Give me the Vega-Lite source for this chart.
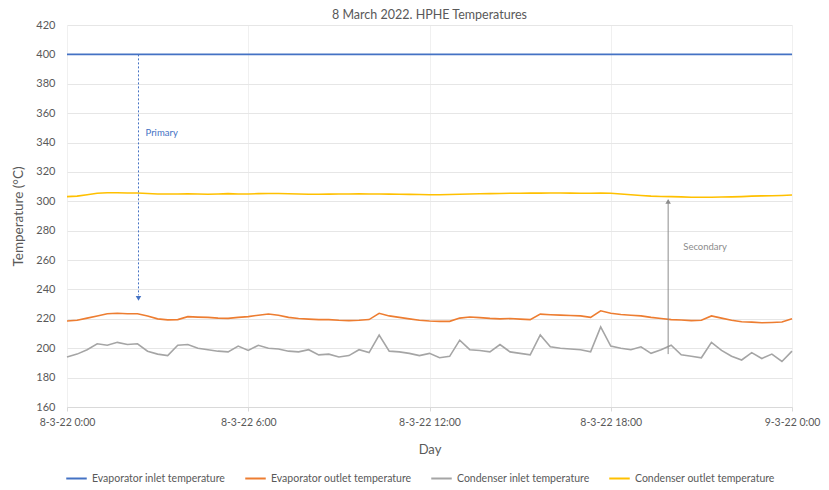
{
  "$schema": "https://vega.github.io/schema/vega-lite/v6.json",
  "width": 725,
  "height": 382,
  "autosize": {"type": "none"},
  "padding": {"left": 67, "top": 25, "right": 37, "bottom": 83},
  "background": "white",
  "config": {
    "font": "Lato",
    "view": {"stroke": null},
    "axis": {"labelColor": "#595959", "titleColor": "#595959", "titleFontWeight": "normal"}
  },
  "title": {"text": "8 March 2022. HPHE Temperatures", "fontSize": 12.5, "fontWeight": "normal", "color": "#595959", "offset": -2, "anchor": "middle"},
  "datasets": {
    "temps": [
      {"t":"2022-03-08T00:00","ei":400,"eo":218.5,"ci":194,"co":303.2},
      {"t":"2022-03-08T00:20","ei":400,"eo":219,"ci":196,"co":303.5},
      {"t":"2022-03-08T00:40","ei":400,"eo":220.5,"ci":199,"co":304.5},
      {"t":"2022-03-08T01:00","ei":400,"eo":222,"ci":203,"co":305.5},
      {"t":"2022-03-08T01:20","ei":400,"eo":223.5,"ci":202,"co":305.8},
      {"t":"2022-03-08T01:40","ei":400,"eo":223.8,"ci":204,"co":305.8},
      {"t":"2022-03-08T02:00","ei":400,"eo":223.5,"ci":202.5,"co":305.7},
      {"t":"2022-03-08T02:20","ei":400,"eo":223.5,"ci":203,"co":305.7},
      {"t":"2022-03-08T02:40","ei":400,"eo":222,"ci":198,"co":305.3},
      {"t":"2022-03-08T03:00","ei":400,"eo":220,"ci":196,"co":305},
      {"t":"2022-03-08T03:20","ei":400,"eo":219.3,"ci":195,"co":305},
      {"t":"2022-03-08T03:40","ei":400,"eo":219.5,"ci":202,"co":305},
      {"t":"2022-03-08T04:00","ei":400,"eo":221.5,"ci":202.5,"co":305.1},
      {"t":"2022-03-08T04:20","ei":400,"eo":221.2,"ci":200,"co":305},
      {"t":"2022-03-08T04:40","ei":400,"eo":221,"ci":199,"co":304.8},
      {"t":"2022-03-08T05:00","ei":400,"eo":220.5,"ci":198,"co":305},
      {"t":"2022-03-08T05:20","ei":400,"eo":220.3,"ci":197.5,"co":305.2},
      {"t":"2022-03-08T05:40","ei":400,"eo":221,"ci":201.5,"co":305},
      {"t":"2022-03-08T06:00","ei":400,"eo":221.5,"ci":198.5,"co":305},
      {"t":"2022-03-08T06:20","ei":400,"eo":222.5,"ci":202,"co":305.2},
      {"t":"2022-03-08T06:40","ei":400,"eo":223.3,"ci":200,"co":305.3},
      {"t":"2022-03-08T07:00","ei":400,"eo":222.5,"ci":199.5,"co":305.3},
      {"t":"2022-03-08T07:20","ei":400,"eo":221,"ci":198,"co":305.1},
      {"t":"2022-03-08T07:40","ei":400,"eo":220.2,"ci":197.5,"co":305},
      {"t":"2022-03-08T08:00","ei":400,"eo":219.8,"ci":199,"co":304.8},
      {"t":"2022-03-08T08:20","ei":400,"eo":219.5,"ci":195.5,"co":304.8},
      {"t":"2022-03-08T08:40","ei":400,"eo":219.5,"ci":196,"co":304.9},
      {"t":"2022-03-08T09:00","ei":400,"eo":219,"ci":194,"co":305},
      {"t":"2022-03-08T09:20","ei":400,"eo":218.8,"ci":195,"co":305},
      {"t":"2022-03-08T09:40","ei":400,"eo":219,"ci":199,"co":305.1},
      {"t":"2022-03-08T10:00","ei":400,"eo":219.5,"ci":197,"co":305},
      {"t":"2022-03-08T10:20","ei":400,"eo":223.8,"ci":209,"co":305},
      {"t":"2022-03-08T10:40","ei":400,"eo":222,"ci":198,"co":304.9},
      {"t":"2022-03-08T11:00","ei":400,"eo":221,"ci":197.5,"co":304.8},
      {"t":"2022-03-08T11:20","ei":400,"eo":220,"ci":196.5,"co":304.7},
      {"t":"2022-03-08T11:40","ei":400,"eo":219,"ci":195,"co":304.6},
      {"t":"2022-03-08T12:00","ei":400,"eo":218.5,"ci":196.5,"co":304.5},
      {"t":"2022-03-08T12:20","ei":400,"eo":218.3,"ci":193.5,"co":304.5},
      {"t":"2022-03-08T12:40","ei":400,"eo":218.3,"ci":194.5,"co":304.6},
      {"t":"2022-03-08T13:00","ei":400,"eo":220.5,"ci":205.5,"co":304.8},
      {"t":"2022-03-08T13:20","ei":400,"eo":221.3,"ci":199,"co":305},
      {"t":"2022-03-08T13:40","ei":400,"eo":220.8,"ci":198.5,"co":305.1},
      {"t":"2022-03-08T14:00","ei":400,"eo":220.3,"ci":197.5,"co":305.2},
      {"t":"2022-03-08T14:20","ei":400,"eo":220,"ci":202.5,"co":305.3},
      {"t":"2022-03-08T14:40","ei":400,"eo":220.2,"ci":197.5,"co":305.5},
      {"t":"2022-03-08T15:00","ei":400,"eo":219.8,"ci":196.5,"co":305.5},
      {"t":"2022-03-08T15:20","ei":400,"eo":219.5,"ci":195.5,"co":305.6},
      {"t":"2022-03-08T15:40","ei":400,"eo":223.2,"ci":209,"co":305.6},
      {"t":"2022-03-08T16:00","ei":400,"eo":222.8,"ci":201,"co":305.7},
      {"t":"2022-03-08T16:20","ei":400,"eo":222.5,"ci":200,"co":305.7},
      {"t":"2022-03-08T16:40","ei":400,"eo":222.3,"ci":199.5,"co":305.6},
      {"t":"2022-03-08T17:00","ei":400,"eo":222,"ci":199,"co":305.5},
      {"t":"2022-03-08T17:20","ei":400,"eo":221,"ci":197.5,"co":305.5},
      {"t":"2022-03-08T17:40","ei":400,"eo":225.5,"ci":214.5,"co":305.7},
      {"t":"2022-03-08T18:00","ei":400,"eo":223.8,"ci":201.5,"co":305.5},
      {"t":"2022-03-08T18:20","ei":400,"eo":223,"ci":200,"co":305},
      {"t":"2022-03-08T18:40","ei":400,"eo":222.5,"ci":199,"co":304.5},
      {"t":"2022-03-08T19:00","ei":400,"eo":222,"ci":201,"co":304},
      {"t":"2022-03-08T19:20","ei":400,"eo":221,"ci":196.5,"co":303.5},
      {"t":"2022-03-08T19:40","ei":400,"eo":220.2,"ci":199,"co":303.3},
      {"t":"2022-03-08T20:00","ei":400,"eo":219.5,"ci":202,"co":303.2},
      {"t":"2022-03-08T20:20","ei":400,"eo":219.2,"ci":195.5,"co":303},
      {"t":"2022-03-08T20:40","ei":400,"eo":218.8,"ci":194.5,"co":302.8},
      {"t":"2022-03-08T21:00","ei":400,"eo":219,"ci":193.5,"co":302.8},
      {"t":"2022-03-08T21:20","ei":400,"eo":222,"ci":204,"co":302.8},
      {"t":"2022-03-08T21:40","ei":400,"eo":220.5,"ci":198.5,"co":302.9},
      {"t":"2022-03-08T22:00","ei":400,"eo":219,"ci":194.5,"co":303},
      {"t":"2022-03-08T22:20","ei":400,"eo":218,"ci":192,"co":303.2},
      {"t":"2022-03-08T22:40","ei":400,"eo":217.8,"ci":197,"co":303.5},
      {"t":"2022-03-08T23:00","ei":400,"eo":217.3,"ci":193,"co":303.7},
      {"t":"2022-03-08T23:20","ei":400,"eo":217.5,"ci":196,"co":303.8},
      {"t":"2022-03-08T23:40","ei":400,"eo":217.8,"ci":191,"co":304},
      {"t":"2022-03-09T00:00","ei":400,"eo":220,"ci":198,"co":304.3}
    ],
    "primary_line": [{"t": "2022-03-08T02:22", "temp": 400, "temp2": 236}],
    "primary_head": [{"t": "2022-03-08T02:22", "temp": 234}],
    "primary_label": [{"t": "2022-03-08T02:36", "temp": 346.5, "name": "Primary"}],
    "secondary_line": [{"t": "2022-03-08T19:54", "temp": 196, "temp2": 299}],
    "secondary_head": [{"t": "2022-03-08T19:54", "temp": 300}],
    "secondary_label": [{"t": "2022-03-08T20:24", "temp": 269, "name": "Secondary"}]
  },
  "encoding": {
    "x": {
      "field": "t", "type": "temporal", "title": "Day",
      "scale": {"domain": [{"year": 2022, "month": 3, "date": 8, "hours": 0}, {"year": 2022, "month": 3, "date": 9, "hours": 0}]},
      "axis": {
        "format": "%-d-%-m-%y %-H:%M",
        "values": [
          {"year": 2022, "month": 3, "date": 8, "hours": 0},
          {"year": 2022, "month": 3, "date": 8, "hours": 6},
          {"year": 2022, "month": 3, "date": 8, "hours": 12},
          {"year": 2022, "month": 3, "date": 8, "hours": 18},
          {"year": 2022, "month": 3, "date": 9, "hours": 0}
        ],
        "labelFontSize": 10.5, "titleFontSize": 13, "titlePadding": 16, "labelPadding": 6,
        "grid": true, "gridColor": "#F0F0F0", "domainColor": "#D9D9D9", "tickColor": "#D9D9D9", "tickSize": 4,
        "labelFlush": false, "labelOverlap": false
      }
    },
    "y": {
      "field": "temp", "type": "quantitative", "title": "Temperature (°C)",
      "scale": {"domain": [160, 420], "nice": false},
      "axis": {
        "values": [160, 180, 200, 220, 240, 260, 280, 300, 320, 340, 360, 380, 400, 420],
        "labelFontSize": 11, "titleFontSize": 13.5, "titlePadding": 10, "labelPadding": 12,
        "gridColor": "#E6E6E6", "domain": false, "ticks": false, "labelOverlap": false
      }
    }
  },
  "layer": [
    {
      "data": {"name": "temps"},
      "transform": [{"fold": ["ei", "eo", "ci", "co"], "as": ["series", "temp"]}],
      "mark": {"type": "line", "strokeWidth": 1.6},
      "encoding": {
        "color": {
          "field": "series", "type": "nominal",
          "scale": {"domain": ["ei", "eo", "ci", "co"], "range": ["#4472C4", "#ED7D31", "#A5A5A5", "#FFC000"]},
          "legend": {
            "title": null, "orient": "none", "direction": "horizontal", "legendX": -2, "legendY": 442,
            "symbolType": "stroke", "symbolSize": 420, "symbolStrokeWidth": 2, "labelFontSize": 10.5, "labelColor": "#595959",
            "columnPadding": 15, "labelOffset": 4,
            "labelExpr": "datum.value == 'ei' ? 'Evaporator inlet temperature' : datum.value == 'eo' ? 'Evaporator outlet temperature' : datum.value == 'ci' ? 'Condenser inlet temperature' : 'Condenser outlet temperature'"
          }
        }
      }
    },
    {
      "data": {"name": "primary_line"},
      "mark": {"type": "rule", "strokeWidth": 1, "color": "#4472C4", "strokeDash": [2, 2]},
      "encoding": {"y2": {"field": "temp2"}}
    },
    {
      "data": {"name": "primary_head"},
      "mark": {"type": "point", "filled": true, "size": 30, "opacity": 1, "color": "#4472C4", "shape": "triangle-down"}
    },
    {
      "data": {"name": "primary_label"},
      "mark": {"type": "text", "align": "left", "baseline": "middle", "fontSize": 9.5, "color": "#4472C4"},
      "encoding": {"text": {"field": "name"}}
    },
    {
      "data": {"name": "secondary_line"},
      "mark": {"type": "rule", "strokeWidth": 1, "color": "#8C8C8C"},
      "encoding": {"y2": {"field": "temp2"}}
    },
    {
      "data": {"name": "secondary_head"},
      "mark": {"type": "point", "filled": true, "size": 30, "opacity": 1, "color": "#8C8C8C", "shape": "triangle-up"}
    },
    {
      "data": {"name": "secondary_label"},
      "mark": {"type": "text", "align": "left", "baseline": "middle", "fontSize": 9.5, "color": "#8C8C8C"},
      "encoding": {"text": {"field": "name"}}
    }
  ]
}
